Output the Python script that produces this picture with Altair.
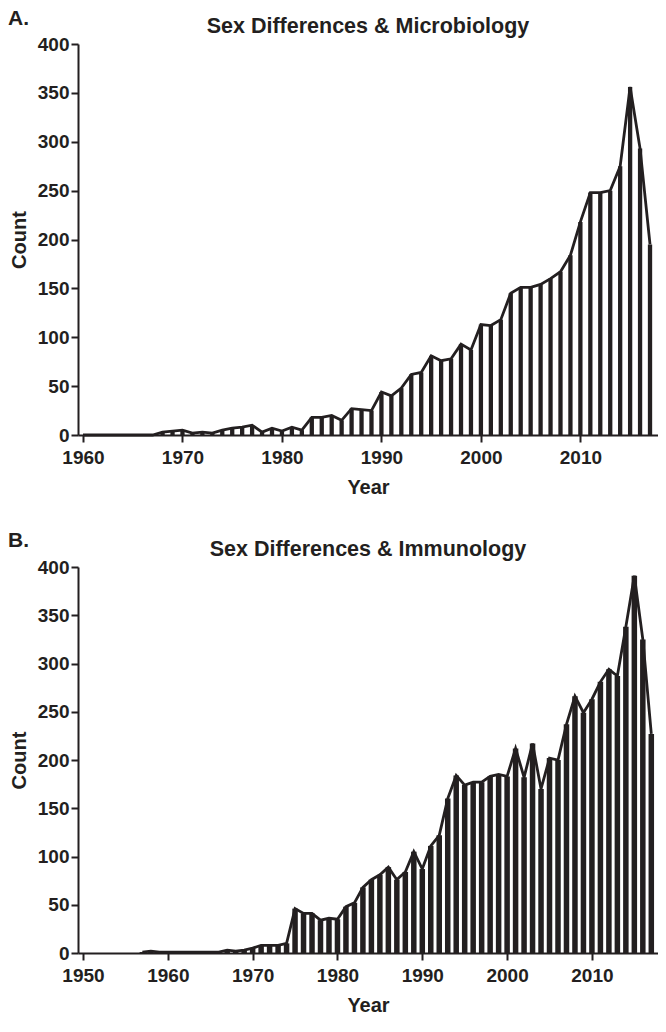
import altair as alt
import pandas as pd

# ---- data ----
years_a = list(range(1960, 2018))
counts_a = [0, 0, 0, 0, 0, 0, 0, 0,
            3, 4, 5, 2, 3, 2, 5, 7, 8, 10, 3, 7,
            4, 8, 5, 18, 18, 20, 15, 27, 26, 25,
            44, 40, 48, 62, 64, 81, 76, 78, 93, 87,
            113, 112, 118, 145, 151, 151, 154, 160, 167, 184,
            218, 248, 248, 250, 275, 356, 293, 195]

years_b = list(range(1957, 2018))
counts_b = [1, 2, 1, 1, 1, 1, 1, 1, 1, 1,
            3, 2, 3, 5, 8, 8, 8, 10, 46, 41, 41, 34, 36,
            35, 48, 52, 68, 76, 81, 89, 76, 84, 105,
            87, 111, 122, 160, 184, 174, 177, 177, 183, 185,
            183, 212, 182, 217, 170, 202, 200, 237, 266, 249,
            263, 281, 294, 287, 338, 391, 325, 227]

ticks_a = [1960, 1970, 1980, 1990, 2000, 2010]
ticks_b = [1950, 1960, 1970, 1980, 1990, 2000, 2010]
ticks_y = [0, 50, 100, 150, 200, 250, 300, 350, 400]

INK = "#231f20"
FONT = "Liberation Sans"
W = 580


def panel(years, counts, x_min, x_max, ticks, bar_w, height, title, letter,
          letter_dy, title_dy):
    df = pd.DataFrame({"Year": years, "Count": counts})
    base = alt.Chart(df)
    x = alt.X("Year:Q",
              scale=alt.Scale(domain=[x_min, x_max], nice=False, zero=False),
              axis=alt.Axis(values=ticks, format="d", title="Year"))
    y = alt.Y("Count:Q",
              scale=alt.Scale(domain=[0, 400], nice=False),
              axis=alt.Axis(values=ticks_y, title="Count"))
    bars = base.mark_bar(size=bar_w, color=INK).encode(x=x, y=y)
    line = base.mark_line(color=INK, strokeWidth=2.8).encode(x=x, y=y)
    lab = alt.Chart(pd.DataFrame({"t": [letter]})).mark_text(
        align="left", baseline="alphabetic", fontSize=21, fontWeight="bold",
        font=FONT, color=INK
    ).encode(x=alt.value(-70), y=alt.value(letter_dy), text="t:N")
    ttl = alt.Chart(pd.DataFrame({"t": [title]})).mark_text(
        align="center", baseline="alphabetic", fontSize=21.5, fontWeight="bold",
        font=FONT, color=INK
    ).encode(x=alt.value(W / 2), y=alt.value(title_dy), text="t:N")
    return alt.layer(bars, line, lab, ttl).properties(width=W, height=height)


a = panel(years_a, counts_a, 1960, 2017.3, ticks_a, 4.3, 391,
          "Sex Differences & Microbiology", "A.", -19, -11.5)
b = panel(years_b, counts_b, 1950, 2017.2, ticks_b, 5.5, 386,
          "Sex Differences & Immunology", "B.", -20, -10.7)

chart = alt.vconcat(a, b, spacing=33).properties(
    padding={"left": 0, "top": 0, "right": 0, "bottom": 0}
).configure_view(stroke=None).configure_axis(
    domainColor=INK, domainWidth=2, tickColor=INK, tickWidth=2, tickSize=7,
    grid=False, labelFont=FONT, labelFontWeight="bold", labelFontSize=19,
    labelColor=INK, titleFont=FONT, titleFontWeight="bold", titleFontSize=20,
    titleColor=INK, labelFlush=False,
).configure_axisX(labelPadding=6, titlePadding=10).configure_axisY(
    labelPadding=2, titlePadding=8
)

chart.save("out.html", embed_options={"renderer": "svg", "actions": False})
